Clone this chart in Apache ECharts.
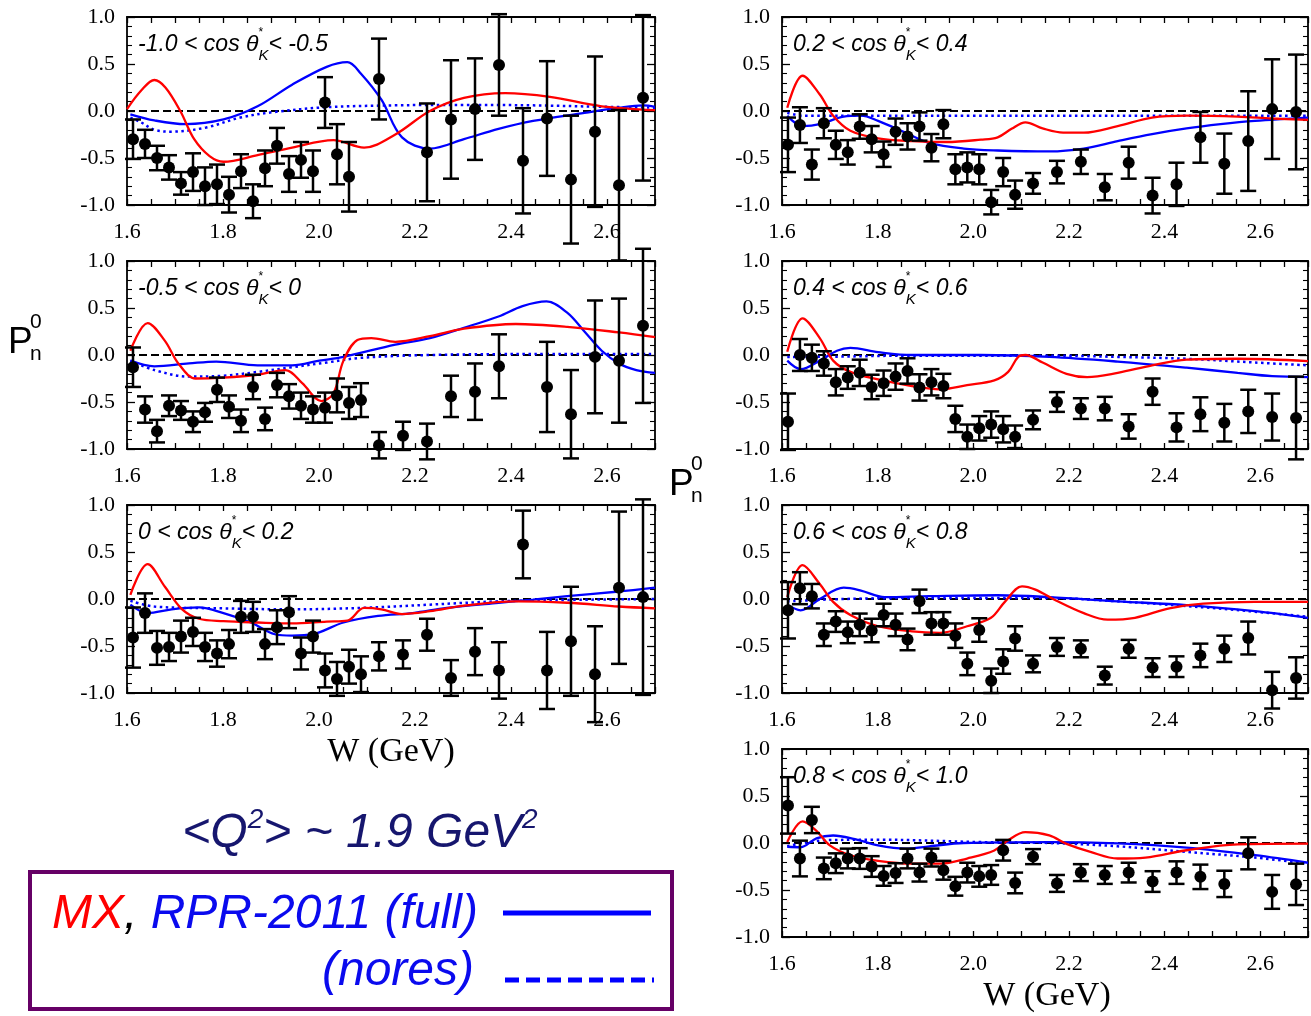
<!DOCTYPE html>
<html lang="en">
<head>
<meta charset="UTF-8">
<title>Pn0 vs W</title>
<script src="https://cdn.jsdelivr.net/npm/echarts@6/dist/echarts.min.js"></script>
<style>
    html, body { margin: 0; padding: 0; background: #fff; }
    #main { width: 1311px; height: 1016px; }
</style>
</head>
<body>
<div id="main"></div>
<script>
// W bin centres (GeV), 0.025 wide up to 2.1, then 0.05 wide
var wBins = [1.6125, 1.6375, 1.6625, 1.6875, 1.7125, 1.7375, 1.7625, 1.7875, 1.8125, 1.8375,
    1.8625, 1.8875, 1.9125, 1.9375, 1.9625, 1.9875, 2.0125, 2.0375, 2.0625, 2.0875,
    2.125, 2.175, 2.225, 2.275, 2.325, 2.375, 2.425, 2.475, 2.525, 2.575, 2.625, 2.675];

// measured Pn0 and errors, one pair per cos(theta_K) bin
var p1 = [-0.30, -0.35, -0.50, -0.60, -0.77, -0.65, -0.80, -0.78, -0.89, -0.64, -0.96, -0.61, -0.37, -0.67, -0.52, -0.64, 0.09, -0.46, -0.70, null, 0.34, null, -0.44, -0.09, 0.02, 0.49, -0.53, -0.08, -0.73, -0.22, -0.79, 0.14];
var e1 = [0.21, 0.15, 0.13, 0.13, 0.12, 0.20, 0.20, 0.21, 0.19, 0.18, 0.18, 0.19, 0.19, 0.19, 0.19, 0.22, 0.27, 0.32, 0.37, null, 0.43, null, 0.52, 0.63, 0.54, 0.54, 0.56, 0.61, 0.68, 0.80, 0.80, 0.88];
var p2 = [-0.13, -0.58, -0.81, -0.54, -0.59, -0.71, -0.61, -0.37, -0.55, -0.70, -0.34, -0.68, -0.32, -0.44, -0.54, -0.58, -0.56, -0.43, -0.51, -0.48, -0.96, -0.86, -0.92, -0.44, -0.39, -0.12, null, -0.34, -0.63, -0.02, -0.06, 0.31];
var e2 = [0.21, 0.14, 0.12, 0.11, 0.10, 0.11, 0.10, 0.13, 0.12, 0.12, 0.13, 0.12, 0.13, 0.13, 0.14, 0.14, 0.16, 0.18, 0.17, 0.18, 0.14, 0.15, 0.19, 0.22, 0.30, 0.34, null, 0.48, 0.47, 0.60, 0.66, 0.82];
var p3 = [-0.41, -0.15, -0.52, -0.51, -0.40, -0.35, -0.51, -0.58, -0.48, -0.19, -0.19, -0.48, -0.30, -0.14, -0.58, -0.40, -0.76, -0.85, -0.72, -0.80, -0.61, -0.59, -0.38, -0.84, -0.56, -0.76, 0.58, -0.76, -0.45, -0.80, 0.12, 0.02];
var e3 = [0.32, 0.21, 0.18, 0.15, 0.17, 0.15, 0.15, 0.14, 0.15, 0.17, 0.16, 0.16, 0.18, 0.17, 0.17, 0.17, 0.18, 0.18, 0.18, 0.19, 0.15, 0.15, 0.17, 0.19, 0.25, 0.30, 0.36, 0.41, 0.58, 0.51, 0.81, 1.04];
var p4 = [-0.36, -0.15, -0.57, -0.13, -0.36, -0.44, -0.165, -0.30, -0.46, -0.22, -0.27, -0.165, -0.39, -0.14, -0.62, -0.60, -0.62, -0.97, -0.65, -0.89, -0.77, -0.65, -0.54, -0.81, -0.55, -0.90, -0.78, -0.28, -0.56, -0.32, 0.02, -0.01];
var e4 = [0.29, 0.19, 0.16, 0.16, 0.15, 0.13, 0.13, 0.14, 0.135, 0.14, 0.14, 0.15, 0.145, 0.15, 0.16, 0.16, 0.16, 0.13, 0.15, 0.15, 0.11, 0.12, 0.13, 0.14, 0.17, 0.19, 0.23, 0.27, 0.32, 0.53, 0.53, 0.61];
var p5 = [-0.71, 0.0, -0.03, -0.09, -0.29, -0.24, -0.19, -0.34, -0.30, -0.23, -0.17, -0.345, -0.29, -0.33, -0.68, -0.87, -0.78, -0.74, -0.79, -0.87, -0.69, -0.50, -0.57, -0.57, -0.76, -0.39, -0.77, -0.63, -0.72, -0.60, -0.66, -0.67];
var e5 = [0.30, 0.17, 0.14, 0.13, 0.14, 0.12, 0.14, 0.13, 0.135, 0.14, 0.135, 0.14, 0.14, 0.13, 0.14, 0.13, 0.13, 0.14, 0.14, 0.12, 0.10, 0.105, 0.11, 0.125, 0.13, 0.14, 0.15, 0.18, 0.20, 0.23, 0.25, 0.44];
var p6 = [-0.12, 0.115, 0.03, -0.38, -0.24, -0.355, -0.275, -0.335, -0.17, -0.275, -0.43, -0.025, -0.26, -0.26, -0.39, -0.69, -0.33, -0.87, -0.665, -0.42, -0.69, -0.51, -0.53, -0.815, -0.53, -0.73, -0.72, -0.60, -0.53, -0.415, -0.97, -0.84];
var e6 = [0.30, 0.17, 0.13, 0.12, 0.11, 0.115, 0.12, 0.125, 0.12, 0.12, 0.115, 0.125, 0.12, 0.12, 0.13, 0.12, 0.125, 0.13, 0.13, 0.13, 0.09, 0.095, 0.09, 0.095, 0.095, 0.10, 0.11, 0.125, 0.14, 0.175, 0.195, 0.22];
var p7 = [0.40, -0.165, 0.245, -0.27, -0.215, -0.165, -0.165, -0.25, -0.35, -0.32, -0.165, -0.315, -0.155, -0.29, -0.46, -0.315, -0.355, -0.34, -0.077, -0.425, -0.145, -0.43, -0.315, -0.34, -0.315, -0.41, -0.315, -0.36, -0.435, -0.11, -0.52, -0.44];
var e7 = [0.30, 0.19, 0.14, 0.115, 0.105, 0.105, 0.11, 0.11, 0.105, 0.105, 0.105, 0.095, 0.095, 0.10, 0.10, 0.105, 0.11, 0.105, 0.11, 0.11, 0.08, 0.09, 0.09, 0.095, 0.105, 0.11, 0.12, 0.13, 0.14, 0.17, 0.18, 0.22];

// model curves [W, Pn0]: MX (red), RPR-2011 full (blue), RPR-2011 nores (blue dotted)
var red1 = [[1.6, 0.02], [1.63, 0.22], [1.657, 0.33], [1.68, 0.25], [1.711, 0], [1.74, -0.3], [1.772, -0.48], [1.801, -0.54], [1.872, -0.47], [1.944, -0.39], [2.03, -0.31], [2.094, -0.39], [2.159, -0.25], [2.231, 0], [2.302, 0.14], [2.388, 0.19], [2.481, 0.15], [2.589, 0.05], [2.7, 0.01]];
var blue1 = [[1.607, -0.035], [1.657, -0.1], [1.722, -0.14], [1.801, -0.09], [1.872, 0.05], [1.944, 0.28], [2.016, 0.47], [2.059, 0.52], [2.087, 0.40], [2.13, 0.12], [2.173, -0.28], [2.231, -0.40], [2.302, -0.30], [2.374, -0.19], [2.446, -0.105], [2.553, -0.02], [2.625, 0.035], [2.675, 0.06], [2.7, 0.045]];
var dot1 = [[1.607, -0.07], [1.629, -0.12], [1.657, -0.2], [1.693, -0.22], [1.765, -0.175], [1.836, -0.07], [1.908, -0.01], [2.016, 0.04], [2.159, 0.06], [2.302, 0.065], [2.446, 0.06], [2.589, 0.045], [2.7, 0.035]];
var red2 = [[1.607, 0.045], [1.643, 0.34], [1.679, 0.15], [1.707, -0.09], [1.743, -0.25], [1.801, -0.24], [1.872, -0.21], [1.93, -0.16], [1.965, -0.30], [2.005, -0.49], [2.03, -0.41], [2.051, -0.06], [2.08, 0.16], [2.109, 0.18], [2.159, 0.14], [2.231, 0.20], [2.302, 0.28], [2.41, 0.33], [2.517, 0.30], [2.625, 0.24], [2.7, 0.19]];
var blue2 = [[1.607, -0.06], [1.657, -0.12], [1.729, -0.09], [1.786, -0.07], [1.872, -0.11], [1.944, -0.11], [2.001, -0.06], [2.051, -0.02], [2.159, 0.11], [2.231, 0.18], [2.302, 0.29], [2.374, 0.41], [2.424, 0.52], [2.474, 0.57], [2.517, 0.45], [2.553, 0.25], [2.589, 0.045], [2.625, -0.09], [2.661, -0.16], [2.7, -0.19]];
var dot2 = [[1.607, -0.06], [1.657, -0.16], [1.729, -0.23], [1.801, -0.22], [1.872, -0.18], [1.944, -0.13], [2.016, -0.08], [2.087, -0.03], [2.231, 0], [2.446, 0.01], [2.7, 0.01]];
var red3 = [[1.607, 0.045], [1.643, 0.37], [1.679, 0.13], [1.715, -0.11], [1.75, -0.21], [1.801, -0.235], [1.872, -0.25], [1.944, -0.26], [2.016, -0.24], [2.059, -0.23], [2.094, -0.095], [2.13, -0.11], [2.173, -0.16], [2.231, -0.13], [2.302, -0.07], [2.41, -0.025], [2.517, -0.04], [2.625, -0.08], [2.7, -0.10]];
var blue3 = [[1.607, -0.06], [1.643, -0.15], [1.693, -0.11], [1.75, -0.09], [1.801, -0.15], [1.858, -0.25], [1.908, -0.375], [1.944, -0.39], [1.987, -0.375], [2.051, -0.25], [2.123, -0.18], [2.195, -0.15], [2.266, -0.095], [2.374, -0.04], [2.446, -0.007], [2.517, 0.03], [2.625, 0.08], [2.7, 0.12]];
var dot3 = [[1.607, -0.02], [1.657, -0.08], [1.801, -0.10], [1.944, -0.11], [2.087, -0.095], [2.231, -0.06], [2.374, -0.025], [2.517, -0.01], [2.7, 0]];
var red4 = [[1.611, 0.035], [1.643, 0.375], [1.679, 0.175], [1.707, -0.05], [1.743, -0.21], [1.801, -0.29], [1.872, -0.32], [1.944, -0.33], [2.016, -0.305], [2.051, -0.28], [2.08, -0.19], [2.109, -0.12], [2.145, -0.185], [2.188, -0.23], [2.231, -0.23], [2.302, -0.16], [2.374, -0.07], [2.446, -0.05], [2.553, -0.06], [2.625, -0.08], [2.7, -0.095]];
var blue4 = [[1.611, -0.05], [1.643, -0.16], [1.679, -0.14], [1.729, -0.06], [1.765, -0.05], [1.801, -0.105], [1.858, -0.23], [1.908, -0.34], [1.98, -0.40], [2.051, -0.42], [2.159, -0.43], [2.231, -0.40], [2.302, -0.32], [2.374, -0.245], [2.446, -0.185], [2.517, -0.14], [2.589, -0.105], [2.7, -0.07]];
var dot4 = [[1.611, -0.02], [1.643, -0.05], [2.0, -0.05], [2.4, -0.05], [2.7, -0.05]];
var red5 = [[1.611, 0.035], [1.643, 0.39], [1.679, 0.18], [1.707, -0.06], [1.743, -0.18], [1.801, -0.26], [1.872, -0.33], [1.93, -0.365], [1.987, -0.32], [2.044, -0.27], [2.073, -0.18], [2.094, -0.02], [2.109, 0], [2.145, -0.08], [2.195, -0.2], [2.238, -0.235], [2.302, -0.19], [2.374, -0.11], [2.446, -0.05], [2.553, -0.04], [2.7, -0.065]];
var blue5 = [[1.611, -0.06], [1.639, -0.15], [1.679, -0.06], [1.715, 0.045], [1.743, 0.075], [1.801, 0.03], [1.872, 0], [2.016, 0], [2.159, -0.02], [2.302, -0.07], [2.446, -0.135], [2.553, -0.19], [2.625, -0.225], [2.7, -0.235]];
var dot5 = [[1.611, -0.02], [1.657, -0.02], [1.872, -0.007], [2.159, -0.007], [2.302, -0.02], [2.446, -0.04], [2.589, -0.08], [2.7, -0.11]];
var red6 = [[1.611, 0.02], [1.643, 0.36], [1.679, 0.16], [1.707, -0.03], [1.743, -0.17], [1.801, -0.29], [1.872, -0.345], [1.93, -0.36], [1.987, -0.29], [2.037, -0.2], [2.066, -0.03], [2.102, 0.135], [2.13, 0.10], [2.173, -0.015], [2.231, -0.15], [2.281, -0.22], [2.338, -0.2], [2.41, -0.10], [2.481, -0.05], [2.589, -0.03], [2.7, -0.03]];
var blue6 = [[1.611, -0.06], [1.639, -0.12], [1.679, 0], [1.729, 0.12], [1.765, 0.09], [1.815, 0.02], [1.908, 0.03], [2.051, 0.04], [2.159, 0.02], [2.302, -0.025], [2.446, -0.065], [2.589, -0.13], [2.7, -0.2]];
var dot6 = [[1.611, -0.025], [1.729, 0.0], [1.872, 0.01], [2.159, 0.01], [2.302, -0.025], [2.446, -0.075], [2.589, -0.135], [2.7, -0.19]];
var red7 = [[1.611, 0.01], [1.643, 0.23], [1.672, 0.13], [1.70, -0.025], [1.743, -0.13], [1.801, -0.19], [1.872, -0.22], [1.93, -0.22], [1.987, -0.165], [2.044, -0.08], [2.073, 0.03], [2.109, 0.115], [2.159, 0.08], [2.195, -0.01], [2.245, -0.095], [2.302, -0.165], [2.36, -0.155], [2.446, -0.077], [2.553, -0.015], [2.7, -0.007]];
var blue7 = [[1.611, -0.04], [1.639, -0.045], [1.672, 0.05], [1.707, 0.08], [1.75, 0.045], [1.801, -0.025], [1.858, -0.06], [1.908, -0.035], [1.98, 0], [2.159, 0.01], [2.302, -0.005], [2.446, -0.05], [2.589, -0.13], [2.7, -0.21]];
var dot7 = [[1.611, -0.035], [1.693, 0.03], [1.801, 0.035], [2.016, 0.01], [2.159, 0], [2.302, -0.035], [2.446, -0.095], [2.589, -0.155], [2.7, -0.22]];

// cos(theta_K*) bin edges for the panel labels
var cosLow = ['-1.0', '-0.5', '0', '0.2', '0.4', '0.6', '0.8'];
var cosHigh = ['-0.5', '0', '0.2', '0.4', '0.6', '0.8', '1.0'];

var W_MIN = 1.6, W_MAX = 2.7;

var chart = echarts.init(document.getElementById('main'));

var vals = [p1, p2, p3, p4, p5, p6, p7];
var errs = [e1, e2, e3, e4, e5, e6, e7];
var reds = [red1, red2, red3, red4, red5, red6, red7];
var blues = [blue1, blue2, blue3, blue4, blue5, blue6, blue7];
var dots = [dot1, dot2, dot3, dot4, dot5, dot6, dot7];

// panel boxes: left column 3 panels, right column 4 panels
var boxes = [
    [127, 17], [127, 261], [127, 505],
    [782, 17], [782, 261], [782, 505], [782, 749]
];
var PW = 528, PH = 188;

var grids = [], xAxes = [], yAxes = [], series = [], graphics = [];
var lineCol = '#000';

function renderErr(params, api) {
    var w = api.value(0), v = api.value(1), e = api.value(2);
    var hi = api.coord([w, v + e]);
    var lo = api.coord([w, v - e]);
    var cap = 8;
    var st = {stroke: '#000', lineWidth: 2.5};
    return {
        type: 'group',
        children: [
            {type: 'line', shape: {x1: hi[0], y1: hi[1], x2: lo[0], y2: lo[1]}, style: st},
            {type: 'line', shape: {x1: hi[0] - cap, y1: hi[1], x2: hi[0] + cap, y2: hi[1]}, style: st},
            {type: 'line', shape: {x1: lo[0] - cap, y1: lo[1], x2: lo[0] + cap, y2: lo[1]}, style: st}
        ]
    };
}

for (var i = 0; i < 7; i++) {
    grids.push({left: boxes[i][0], top: boxes[i][1], width: PW, height: PH});

    // bottom x axis with labels, top x axis ticks only
    xAxes.push({
        gridIndex: i, type: 'value', min: W_MIN, max: W_MAX, interval: 0.05, position: 'bottom',
        axisLine: {show: true, onZero: false, lineStyle: {color: lineCol, width: 1.8}},
        axisTick: {show: true, inside: true, length: 6, lineStyle: {color: lineCol, width: 1.3}},
        axisLabel: {
            interval: 0, margin: 16, color: '#000', fontFamily: 'Liberation Serif', fontSize: 22,
            formatter: function (v) {
                var k = Math.round(v * 100);
                return (k % 20 === 0 && k < 270) ? (k / 100).toFixed(1) : '';
            }
        },
        splitLine: {show: false}
    });
    xAxes.push({
        gridIndex: i, type: 'value', min: W_MIN, max: W_MAX, interval: 0.05, position: 'top',
        axisLine: {show: true, onZero: false, lineStyle: {color: lineCol, width: 1.8}},
        axisTick: {show: true, inside: true, length: 6, lineStyle: {color: lineCol, width: 1.3}},
        axisLabel: {show: false},
        splitLine: {show: false}
    });
    yAxes.push({
        gridIndex: i, type: 'value', min: -1, max: 1, interval: 0.5, position: 'left',
        axisLine: {show: true, onZero: false, lineStyle: {color: lineCol, width: 1.8}},
        axisTick: {show: true, inside: true, length: 8, lineStyle: {color: lineCol, width: 1.3}},
        minorTick: {show: true, splitNumber: 5, length: 5, lineStyle: {color: lineCol, width: 1.1}},
        axisLabel: {
            margin: 12, color: '#000', fontFamily: 'Liberation Serif', fontSize: 22,
            formatter: function (v) { return v.toFixed(1); }
        },
        splitLine: {show: false}
    });
    yAxes.push({
        gridIndex: i, type: 'value', min: -1, max: 1, interval: 0.5, position: 'right',
        axisLine: {show: true, onZero: false, lineStyle: {color: lineCol, width: 1.8}},
        axisTick: {show: true, inside: true, length: 8, lineStyle: {color: lineCol, width: 1.3}},
        minorTick: {show: true, splitNumber: 5, length: 5, lineStyle: {color: lineCol, width: 1.1}},
        axisLabel: {show: false},
        splitLine: {show: false}
    });

    var xi = 2 * i, yi = 2 * i;
    var pts = [];
    for (var j = 0; j < wBins.length; j++) {
        if (vals[i][j] !== null) pts.push([wBins[j], vals[i][j], errs[i][j]]);
    }

    series.push({
        type: 'line', xAxisIndex: xi, yAxisIndex: yi, silent: true, symbol: 'none',
        data: [[W_MIN, 0], [W_MAX, 0]],
        lineStyle: {color: '#000', width: 2, type: [8, 4]}, z: 2
    });
    series.push({
        type: 'line', xAxisIndex: xi, yAxisIndex: yi, silent: true, symbol: 'none', smooth: 0.35,
        data: dots[i], lineStyle: {color: '#0000ff', width: 2.5, type: [2.5, 3.5]}, z: 3
    });
    series.push({
        type: 'line', xAxisIndex: xi, yAxisIndex: yi, silent: true, symbol: 'none', smooth: 0.35,
        data: blues[i], lineStyle: {color: '#0000ff', width: 2.3}, z: 3
    });
    series.push({
        type: 'line', xAxisIndex: xi, yAxisIndex: yi, silent: true, symbol: 'none', smooth: 0.35,
        data: reds[i], lineStyle: {color: '#ff0000', width: 2.3}, z: 4
    });
    series.push({
        type: 'custom', xAxisIndex: xi, yAxisIndex: yi, silent: true, clip: false,
        renderItem: renderErr, encode: {x: 0, y: 1}, data: pts, z: 5
    });
    series.push({
        type: 'scatter', xAxisIndex: xi, yAxisIndex: yi, silent: true, symbolSize: 12,
        data: pts, itemStyle: {color: '#000', opacity: 1}, z: 6
    });

    graphics.push({
        type: 'text', x: boxes[i][0] + 11, y: boxes[i][1] + 28,
        style: {
            text: '{a|' + cosLow[i] + ' < cos θ}{s|*}{k|K}{a|< ' + cosHigh[i] + '}',
            textVerticalAlign: 'middle',
            rich: {
                a: {fontFamily: 'Liberation Sans', fontStyle: 'italic', fontSize: 23, lineHeight: 36, fill: '#000'},
                s: {fontFamily: 'Liberation Sans', fontSize: 12, lineHeight: 14, verticalAlign: 'top', width: 0, fill: '#000'},
                k: {fontFamily: 'Liberation Sans', fontStyle: 'italic', fontSize: 15, lineHeight: 22, verticalAlign: 'bottom', fill: '#000'}
            }
        }
    });
}

// axis titles
function pLabel(x, y) {
    return [
        {type: 'text', x: x, y: y, style: {text: 'P', fontFamily: 'Liberation Sans', fontSize: 37, fill: '#000', textVerticalAlign: 'bottom'}},
        {type: 'text', x: x + 22, y: y - 28, style: {text: '0', fontFamily: 'Liberation Sans', fontSize: 21, fill: '#000', textVerticalAlign: 'bottom'}},
        {type: 'text', x: x + 22, y: y + 4, style: {text: 'n', fontFamily: 'Liberation Sans', fontSize: 21, fill: '#000', textVerticalAlign: 'bottom'}}
    ];
}
graphics = graphics.concat(pLabel(8, 361), pLabel(669, 503));

graphics.push({type: 'text', x: 391, y: 752, style: {text: 'W (GeV)', fontFamily: 'Liberation Serif', fontSize: 34, fill: '#000', textAlign: 'center', textVerticalAlign: 'middle'}});
graphics.push({type: 'text', x: 1047, y: 996, style: {text: 'W (GeV)', fontFamily: 'Liberation Serif', fontSize: 34, fill: '#000', textAlign: 'center', textVerticalAlign: 'middle'}});

// Q^2 note
graphics.push({
    type: 'text', x: 360, y: 834,
    style: {
        text: '{a|<Q}{s|2}{a|> ~ 1.9 GeV}{s|2}', textAlign: 'center', textVerticalAlign: 'middle',
        rich: {
            a: {fontFamily: 'Liberation Sans', fontStyle: 'italic', fontSize: 48, lineHeight: 56, fill: '#16166e'},
            s: {fontFamily: 'Liberation Sans', fontStyle: 'italic', fontSize: 28, lineHeight: 32, verticalAlign: 'top', fill: '#16166e'}
        }
    }
});

// legend box
graphics.push({type: 'rect', shape: {x: 30, y: 872, width: 642, height: 137}, style: {fill: 'none', stroke: '#660066', lineWidth: 4}});
graphics.push({
    type: 'text', x: 52, y: 915,
    style: {
        text: '{r|MX}{k|, }{b|RPR-2011 (full)}', textVerticalAlign: 'middle',
        rich: {
            r: {fontFamily: 'Liberation Sans', fontStyle: 'italic', fontSize: 48, fill: '#ff0000'},
            k: {fontFamily: 'Liberation Sans', fontStyle: 'italic', fontSize: 48, fill: '#000'},
            b: {fontFamily: 'Liberation Sans', fontStyle: 'italic', fontSize: 48, fill: '#0a0aee'}
        }
    }
});
graphics.push({type: 'text', x: 474, y: 972, style: {text: '(nores)', fontFamily: 'Liberation Sans', fontStyle: 'italic', fontSize: 48, fill: '#0a0aee', textAlign: 'right', textVerticalAlign: 'middle'}});
graphics.push({type: 'line', shape: {x1: 503, y1: 913, x2: 651, y2: 913}, style: {stroke: '#0000ff', lineWidth: 5}});
graphics.push({type: 'line', shape: {x1: 505, y1: 980, x2: 654, y2: 980}, style: {stroke: '#0000ff', lineWidth: 5, lineDash: [14, 7]}});

var option = {
    backgroundColor: '#fff',
    animation: false,
    grid: grids,
    xAxis: xAxes,
    yAxis: yAxes,
    series: series,
    graphic: graphics
};

chart.setOption(option);
</script>
</body>
</html>
